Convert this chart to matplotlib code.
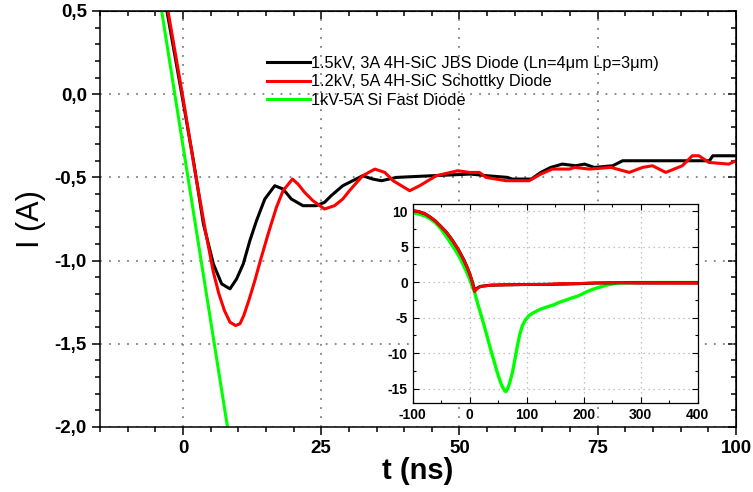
import numpy as np
import matplotlib
matplotlib.use("Agg")
import matplotlib.pyplot as plt
from matplotlib.ticker import MultipleLocator, FuncFormatter

plt.rcParams['font.family'] = ['Liberation Sans', 'DejaVu Sans']
plt.rcParams['axes.unicode_minus'] = False

# main plot data (t in ns, I in A)
t_jbs = [-3.5, -2.9, 0, 2, 3.7, 5.5, 7, 8.5, 9.7, 10.9, 12.1, 13.3, 14.8, 16.6, 18.1, 19.6,
         21.7, 24.1, 25.6, 26.8, 28.9, 30.1, 32.5, 34.3, 35.9, 38.6, 45, 52, 55, 58.7, 59.5,
         63, 64.7, 66.5, 68.6, 71, 72.6, 74.4, 77.7, 79.5, 95.2, 95.8, 100]
i_jbs = [0.65, 0.5, -0.04, -0.42, -0.78, -1.02, -1.14, -1.17, -1.11, -1.02, -0.88, -0.76,
         -0.63, -0.55, -0.57, -0.63, -0.67, -0.67, -0.65, -0.61, -0.55, -0.53, -0.49, -0.51,
         -0.52, -0.50, -0.49, -0.48, -0.49, -0.50, -0.51, -0.51, -0.47, -0.44, -0.42, -0.43,
         -0.42, -0.44, -0.43, -0.40, -0.40, -0.37, -0.37]

t_sch = [-3.5, -2.7, 0, 2, 4, 5.5, 6.5, 7.5, 8.5, 9.5, 10.3, 11, 12, 13, 14, 15.4, 16.9, 18.1,
         19.8, 20.8, 22, 23.5, 25.6, 27.4, 28.9, 30.1, 32.5, 34.7, 36.5, 38, 41, 42.8, 45.8,
         49.7, 51.8, 53.6, 54.8, 58.4, 62.6, 64.7, 66.8, 69.9, 70.8, 73.5, 77.4, 80.7, 83.1,
         84.9, 87.3, 90.3, 92.1, 93.3, 95.1, 98.7, 100]
i_sch = [0.65, 0.5, -0.02, -0.43, -0.81, -1.07, -1.2, -1.3, -1.37, -1.39, -1.38, -1.33, -1.23,
         -1.12, -1.0, -0.84, -0.68, -0.58, -0.51, -0.54, -0.59, -0.64, -0.69, -0.67, -0.63,
         -0.58, -0.49, -0.45, -0.47, -0.52, -0.58, -0.55, -0.49, -0.46, -0.47, -0.47, -0.50,
         -0.52, -0.52, -0.48, -0.45, -0.45, -0.44, -0.45, -0.44, -0.47, -0.44, -0.43, -0.47,
         -0.43, -0.37, -0.37, -0.41, -0.42, -0.40]

t_si = [-4.5, -3.85, 0, 4, 8.05, 9]
i_si = [0.64, 0.5, -0.31, -1.15, -2.0, -2.2]

# inset data (wide time window)
ti_si = [-100, -90, -78, -70, -60.7, -52, -43.4, -35, -26, -18, -11.6, -5, 0, 4, 8.7, 14,
         20.2, 26, 31.8, 37.5, 43.4, 48, 52, 56, 60.7, 63.5, 66.5, 70, 75, 80, 83.8, 88,
         92.5, 98, 104, 114, 124, 135, 147, 158, 168, 176, 190, 204, 216, 228, 240, 251,
         263, 280, 300, 350, 400]
ii_si = [9.77, 9.6, 9.3, 8.95, 8.4, 7.65, 6.7, 5.7, 4.6, 3.55, 2.5, 1.35, 0.4, -0.5, -1.45,
         -3.0, -4.7, -6.3, -8.0, -9.7, -11.3, -12.6, -13.6, -14.5, -15.2, -15.4, -15.0,
         -14.2, -12.7, -10.6, -8.9, -7.3, -6.1, -5.3, -4.7, -4.2, -3.8, -3.5, -3.2, -2.8,
         -2.55, -2.3, -1.95, -1.4, -1.0, -0.7, -0.42, -0.23, -0.1, -0.06, -0.05, -0.05, -0.05]
ti_jbs = [-100, -90, -78, -70, -60, -50, -40, -30, -20, -10, -5, 0, 4, 8.7, 11, 13.3, 16,
          20, 28, 37.6, 60, 100, 140, 176, 220, 260, 300, 400]
ii_jbs = [10.05, 9.95, 9.6, 9.2, 8.6, 7.8, 6.95, 5.85, 4.6, 3.1, 2.2, 1.2, 0.2, -1.15, -1.0,
          -0.85, -0.7, -0.58, -0.5, -0.42, -0.38, -0.33, -0.3, -0.25, -0.12, -0.08, -0.1, -0.1]
ti_sch = [-100, -90, -78, -70, -60, -50, -40, -30, -20, -10, -5, 0, 4, 8.7, 11, 13.3, 16,
          20, 28, 37.6, 60, 100, 140, 158, 176, 220, 260, 300, 400]
ii_sch = [10.05, 9.95, 9.6, 9.2, 8.6, 7.8, 6.95, 5.85, 4.6, 3.1, 2.2, 1.2, 0.2, -1.35, -1.1,
          -0.9, -0.75, -0.6, -0.52, -0.42, -0.38, -0.33, -0.3, -0.18, -0.2, -0.12, -0.06,
          -0.12, -0.15]

labels = ["1.5kV, 3A 4H-SiC JBS Diode (Ln=4\u03bcm Lp=3\u03bcm)",
          "1.2kV, 5A 4H-SiC Schottky Diode",
          "1kV-5A Si Fast Diode"]

GREEN = '#00ff00'
RED = '#ff0000'

fig = plt.figure(figsize=(7.53, 4.92), dpi=100)
ax = fig.add_axes([100/753, 1-427/492, 636/753, 416/492])

lw = 2.2
ax.plot(t_jbs, i_jbs, color='black', lw=lw, label=labels[0])
ax.plot(t_sch, i_sch, color=RED, lw=lw, label=labels[1])
ax.plot(t_si, i_si, color=GREEN, lw=lw, label=labels[2])

ax.set_xlim(-15, 100)
ax.set_ylim(-2.0, 0.5)
ax.xaxis.set_major_locator(MultipleLocator(25))
ax.xaxis.set_minor_locator(MultipleLocator(5))
ax.yaxis.set_major_locator(MultipleLocator(0.5))
ax.yaxis.set_minor_locator(MultipleLocator(0.1))
ax.yaxis.set_major_formatter(FuncFormatter(lambda v, p: f"{v:.1f}".replace('.', ',')))
ax.grid(which='major', ls=(0, (1, 4)), color='#808080', lw=1.3)
ax.tick_params(which='both', direction='out', width=1.1, labelsize=13.5)
ax.tick_params(which='major', length=6)
ax.tick_params(which='minor', length=3.5)
for lab in ax.get_xticklabels() + ax.get_yticklabels():
    lab.set_fontweight('bold')
for s in ax.spines.values():
    s.set_linewidth(1.1)

# inward ticks on top and right
top = ax.secondary_xaxis('top')
top.xaxis.set_major_locator(MultipleLocator(25))
top.xaxis.set_minor_locator(MultipleLocator(5))
top.tick_params(which='both', direction='in', labeltop=False, width=1.1)
top.tick_params(which='major', length=6)
top.tick_params(which='minor', length=3.5)
right = ax.secondary_yaxis('right')
right.yaxis.set_major_locator(MultipleLocator(0.5))
right.yaxis.set_minor_locator(MultipleLocator(0.1))
right.tick_params(which='both', direction='in', labelright=False, width=1.1)
right.tick_params(which='major', length=6)
right.tick_params(which='minor', length=3.5)

ax.set_xlabel("t (ns)", fontsize=21, fontweight='bold', labelpad=0)
ax.set_ylabel("I (A)", fontsize=22, labelpad=6)

ax.legend(loc='upper left', bbox_to_anchor=(0.25, 0.912), frameon=False, fontsize=11.8,
          handlelength=2.6, handletextpad=0.1, labelspacing=0.22, borderpad=0)

# inset
axi = fig.add_axes([412.7/753, 1-403/492, 285/753, 199/492])
axi.set_zorder(5)
axi.set_facecolor('white')
axi.plot(ti_si, ii_si, color=GREEN, lw=2.4)
axi.plot(ti_jbs, ii_jbs, color='black', lw=2.2)
axi.plot(ti_sch, ii_sch, color=RED, lw=2.0)
axi.set_xlim(-100, 400)
axi.set_ylim(-17, 11)
axi.xaxis.set_major_locator(MultipleLocator(100))
axi.xaxis.set_minor_locator(MultipleLocator(50))
axi.yaxis.set_major_locator(MultipleLocator(5))
axi.yaxis.set_minor_locator(MultipleLocator(2.5))
axi.grid(which='major', ls=(0, (1, 3)), color='#b0b0b0', lw=0.9)
axi.tick_params(which='both', direction='in', top=True, right=True, labelsize=10, width=0.8)
axi.tick_params(which='major', length=4)
axi.tick_params(which='minor', length=2)
for lab in axi.get_xticklabels() + axi.get_yticklabels():
    lab.set_fontweight('bold')
for s in axi.spines.values():
    s.set_linewidth(0.9)

fig.savefig("out.png", dpi=100)
